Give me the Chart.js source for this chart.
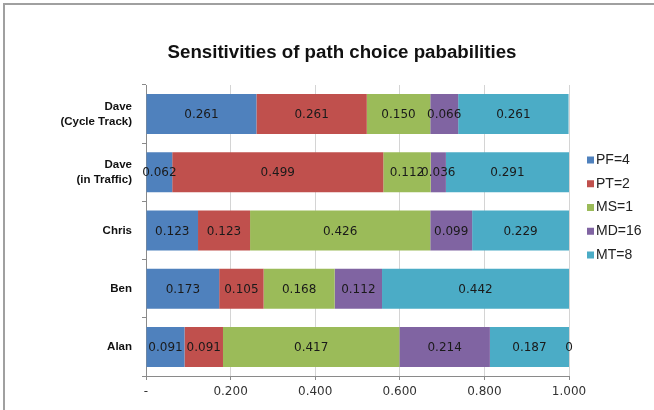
<!DOCTYPE html>
<html>
<head>
<meta charset="utf-8">
<script src="https://cdn.jsdelivr.net/npm/chart.js@4"></script>
<style>
  html, body { margin: 0; padding: 0; background: #fff; }
  #wrap { position: relative; width: 654px; height: 410px; overflow: hidden; }
  #frame { position: absolute; left: 3px; top: 3px; width: 700px; height: 500px; border: 2px solid #a0a0a0; }
  #myChart { position: absolute; left: 0; top: 0; }
</style>
</head>
<body>
<div id="wrap">
  <div id="frame"></div>
  <canvas id="myChart" width="654" height="410"></canvas>
</div>
<script>
const chartTitle = "Sensitivities of path choice pababilities";
const people = [["Dave", "(Cycle Track)"], ["Dave", "(in Traffic)"], "Chris", "Ben", "Alan"];

const seriesNames = ["PF=4", "PT=2", "MS=1", "MD=16", "MT=8"];
const pf = [0.261, 0.062, 0.123, 0.173, 0.091];
const pt = [0.261, 0.499, 0.123, 0.105, 0.091];
const ms = [0.150, 0.112, 0.426, 0.168, 0.417];
const md = [0.066, 0.036, 0.099, 0.112, 0.214];
const mt = [0.261, 0.291, 0.229, 0.442, 0.187];
const blank = [null, null, null, null, 0];   // the stray "0" after Alan's bar

const barColors = ["#4F81BD", "#C0504D", "#9BBB59", "#8064A2", "#4BACC6"];
const xTicks = [0, 0.2, 0.4, 0.6, 0.8, 1.0];

const allSeries = [pf, pt, ms, md, mt];
const datasets = allSeries.map((vals, i) => ({
    label: seriesNames[i],
    data: vals,
    backgroundColor: barColors[i],
    borderWidth: 0
}));
datasets.push({ label: "", data: blank, backgroundColor: "transparent", borderWidth: 0, noLegend: true });

// value labels in the middle of each segment
const valueLabels = {
    id: "valueLabels",
    afterDatasetsDraw(chart) {
        const c = chart.ctx;
        c.save();
        c.font = "12px 'DejaVu Sans'";
        c.fillStyle = "#1a1a1a";
        c.textAlign = "center";
        c.textBaseline = "middle";
        chart.data.datasets.forEach((ds, i) => {
            chart.getDatasetMeta(i).data.forEach((bar, j) => {
                const v = ds.data[j];
                if (v === null || v === undefined) return;
                const txt = v === 0 ? "0" : v.toFixed(3);
                c.fillText(txt, (bar.x + bar.base) / 2, bar.y + 1);
            });
        });
        c.restore();
    }
};

// Excel-style title + legend (the built-in ones can't be placed like Excel does)
const excelBits = {
    id: "excelBits",
    afterDraw(chart) {
        const c = chart.ctx;
        c.save();
        c.font = "bold 18.7px 'Liberation Sans'";
        c.fillStyle = "#111";
        c.textAlign = "center";
        c.textBaseline = "middle";
        c.fillText(chartTitle, 342, 52.5);

        c.font = "14px 'Liberation Sans'";
        c.textAlign = "left";
        let y = 160;
        chart.data.datasets.forEach(ds => {
            if (ds.noLegend) return;
            c.fillStyle = ds.backgroundColor;
            c.fillRect(587, y - 3.5, 7, 7);
            c.fillStyle = "#222";
            c.fillText(ds.label, 596, y);
            y += 23.75;
        });
        c.restore();
    }
};

const ctx = document.getElementById('myChart');

new Chart(ctx, {
    type: "bar",
    data: {
        labels: people,
        datasets: datasets
    },
    options: {
        indexAxis: "y",
        responsive: false,
        animation: false,
        layout: { padding: { left: 0, right: 85, top: 85, bottom: 0 } },
        datasets: {
            bar: { barPercentage: 0.687, categoryPercentage: 1.0 }
        },
        plugins: {
            legend: { display: false },
            tooltip: { enabled: false },
            title: { display: false }
        },
        scales: {
            x: {
                stacked: true,
                min: 0,
                max: 1,
                afterBuildTicks(scale) {
                    scale.ticks = xTicks.map(v => ({ value: v }));
                },
                afterFit(scale) { scale.height = 34; },
                ticks: {
                    color: "#333",
                    font: { family: "'DejaVu Sans'", size: 12 },
                    padding: 5,
                    maxRotation: 0,
                    callback: v => v === 0 ? "-" : Number(v).toFixed(3)
                },
                grid: {
                    color: "#d4d4d4",
                    tickColor: "#8a8a8a",
                    tickLength: 4
                },
                border: { color: "#8a8a8a" }
            },
            y: {
                stacked: true,
                afterFit(scale) { scale.width = 146; },
                ticks: {
                    color: "#111",
                    font: { family: "'Liberation Sans'", size: 11.5, weight: "bold", lineHeight: 1.3 },
                    padding: 10
                },
                grid: {
                    offset: true,
                    drawOnChartArea: false,
                    tickColor: "#8a8a8a",
                    tickLength: 4
                },
                border: { color: "#8a8a8a" }
            }
        }
    },
    plugins: [valueLabels, excelBits]
});
</script>
</body>
</html>
